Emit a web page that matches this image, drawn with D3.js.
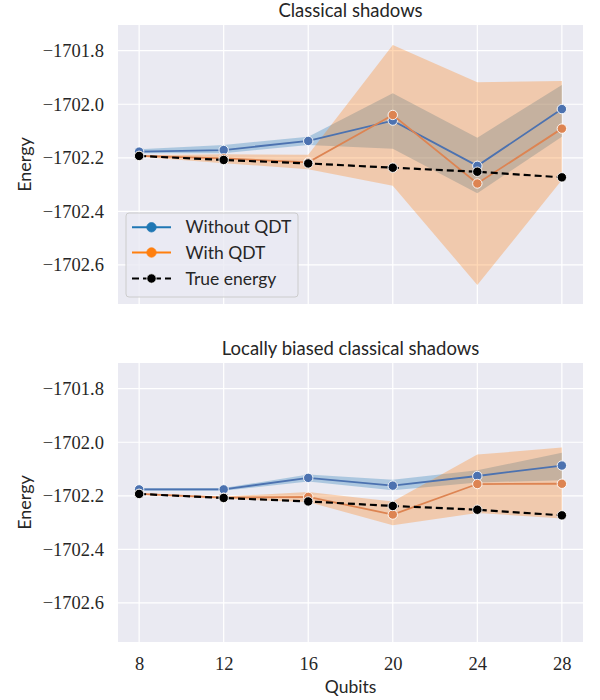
<!DOCTYPE html>
<html><head><meta charset="utf-8">
<script src="https://cdn.jsdelivr.net/npm/d3@7"></script>
<style>
body{margin:0;background:#fff;}
svg{display:block;}
.tick text{font-family:"Liberation Serif","Times New Roman","DejaVu Serif",serif;}
</style>
</head><body>
<svg id="c" width="600" height="700"></svg>
<script>
// ---------- data ----------
const qubits = [8, 12, 16, 20, 24, 28];
const yTicks = [-1701.8, -1702.0, -1702.2, -1702.4, -1702.6];
const seriesNames = ["Without QDT", "With QDT", "True energy"];
const panelTitles = ["Classical shadows", "Locally biased classical shadows"];

// Panel 1: Classical shadows
const cs_without     = [-1702.177, -1702.171, -1702.137, -1702.061, -1702.230, -1702.018];
const cs_without_lo  = [-1702.183, -1702.183, -1702.152, -1702.166, -1702.332, -1702.121];
const cs_without_hi  = [-1702.168, -1702.152, -1702.121, -1701.959, -1702.125, -1701.928];
const cs_with        = [-1702.193, -1702.202, -1702.217, -1702.040, -1702.296, -1702.091];
const cs_with_lo     = [-1702.196, -1702.220, -1702.243, -1702.304, -1702.675, -1702.283];
const cs_with_hi     = [-1702.190, -1702.187, -1702.189, -1701.779, -1701.918, -1701.913];
const cs_true        = [-1702.193, -1702.208, -1702.221, -1702.237, -1702.252, -1702.273];

// Panel 2: Locally biased classical shadows
const lb_without     = [-1702.176, -1702.176, -1702.133, -1702.162, -1702.126, -1702.087];
const lb_without_lo  = [-1702.181, -1702.181, -1702.147, -1702.179, -1702.150, -1702.142];
const lb_without_hi  = [-1702.171, -1702.171, -1702.120, -1702.140, -1702.105, -1702.039];
const lb_with        = [-1702.193, -1702.207, -1702.204, -1702.270, -1702.156, -1702.155];
const lb_with_lo     = [-1702.196, -1702.211, -1702.223, -1702.310, -1702.264, -1702.285];
const lb_with_hi     = [-1702.190, -1702.203, -1702.186, -1702.221, -1702.046, -1702.020];
const lb_true        = [-1702.193, -1702.208, -1702.221, -1702.238, -1702.252, -1702.273];

const panels = [
  {title: panelTitles[0], without: cs_without, wLo: cs_without_lo, wHi: cs_without_hi,
   withq: cs_with, qLo: cs_with_lo, qHi: cs_with_hi, truth: cs_true},
  {title: panelTitles[1], without: lb_without, wLo: lb_without_lo, wHi: lb_without_hi,
   withq: lb_with, qLo: lb_with_lo, qHi: lb_with_hi, truth: lb_true}
];

// ---------- layout ----------
const L = 118, R = 583;
const panelBox = [{top: 25, bottom: 304}, {top: 363, bottom: 642}];
const lineBlue = "#4c72b0", lineOrange = "#dd8452";
const bandBlue = "#1f77b4", bandOrange = "#ff7f0e";
const sans = "Lato, 'Open Sans', sans-serif";
const serif = "'Liberation Serif', 'Times New Roman', 'DejaVu Serif', serif";
const txt = "#262626";

const svg = d3.select("#c");
const x = d3.scaleLinear().domain([7, 29]).range([L, R]);

panels.forEach((p, i) => {
  const box = panelBox[i];
  const y = d3.scaleLinear().domain([-1702.746, -1701.704]).range([box.bottom, box.top]);
  const g = svg.append("g");

  g.append("rect").attr("x", L).attr("y", box.top).attr("width", R - L)
    .attr("height", box.bottom - box.top).attr("fill", "#eaeaf2");

  // grid
  g.selectAll(".hg").data(yTicks).enter().append("line")
    .attr("x1", L).attr("x2", R).attr("y1", d => y(d)).attr("y2", d => y(d))
    .attr("stroke", "#fff").attr("stroke-width", 1.2);
  g.selectAll(".vg").data(qubits).enter().append("line")
    .attr("y1", box.top).attr("y2", box.bottom).attr("x1", d => x(d)).attr("x2", d => x(d))
    .attr("stroke", "#fff").attr("stroke-width", 1.2);

  // y axis
  const ya = g.append("g").attr("transform", `translate(${L},0)`)
    .call(d3.axisLeft(y).tickValues(yTicks).tickSize(0).tickPadding(14)
      .tickFormat(d => "\u2212" + d3.format(".1f")(-d)));
  ya.attr("font-family", serif);
  ya.select(".domain").remove();
  ya.selectAll("text").attr("font-size", 18.5).attr("fill", txt).attr("font-family", serif);

  // x axis on bottom panel only
  if (i === 1) {
    const xa = g.append("g").attr("transform", `translate(0,${box.bottom})`)
      .call(d3.axisBottom(x).tickValues(qubits).tickSize(0).tickPadding(15).tickFormat(d3.format("d")));
    xa.attr("font-family", serif);
    xa.select(".domain").remove();
    xa.selectAll("text").attr("font-size", 18.5).attr("fill", txt).attr("font-family", serif);
    g.append("text").attr("x", (L + R) / 2).attr("y", 693).attr("text-anchor", "middle")
      .attr("font-family", sans).attr("font-size", 17.5).attr("fill", txt).text("Qubits");
  }

  // y label
  g.append("text").attr("transform", `translate(31,${(box.top + box.bottom) / 2}) rotate(-90)`)
    .attr("text-anchor", "middle").attr("font-family", sans).attr("font-size", 18)
    .attr("fill", txt).text("Energy");

  // title
  g.append("text").attr("x", (L + R) / 2).attr("y", box.top - 8).attr("text-anchor", "middle")
    .attr("font-family", sans).attr("font-size", 18.5).attr("fill", txt).text(p.title);

  const area = (lo, hi) => d3.area().x((d, k) => x(qubits[k])).y0((d, k) => y(lo[k])).y1((d, k) => y(hi[k]))(qubits);
  const line = vals => d3.line().x((d, k) => x(qubits[k])).y((d, k) => y(vals[k]))(qubits);

  g.append("path").attr("d", area(p.wLo, p.wHi)).attr("fill", bandBlue).attr("fill-opacity", 0.3);
  g.append("path").attr("d", area(p.qLo, p.qHi)).attr("fill", bandOrange).attr("fill-opacity", 0.3);

  const drawSeries = (vals, color, dashed) => {
    g.append("path").attr("d", line(vals)).attr("fill", "none").attr("stroke", color)
      .attr("stroke-width", dashed ? 2.2 : 1.8).attr("stroke-dasharray", dashed ? "7,4" : null);
    g.selectAll(null).data(vals).enter().append("circle")
      .attr("cx", (d, k) => x(qubits[k])).attr("cy", d => y(d)).attr("r", 4.7)
      .attr("fill", color).attr("stroke", "#fff").attr("stroke-width", 0.9);
  };
  drawSeries(p.without, lineBlue, false);
  drawSeries(p.withq, lineOrange, false);
  drawSeries(p.truth, "#000", true);

  // legend in top panel
  if (i === 0) {
    const lg = g.append("g");
    lg.append("rect").attr("x", 126).attr("y", 213).attr("width", 172).attr("height", 84)
      .attr("rx", 3).attr("fill", "#eaeaf2").attr("fill-opacity", 0.8)
      .attr("stroke", "#cccccc").attr("stroke-width", 1);
    const legColors = ["#1f77b4", "#ff7f0e", "#000"];
    const rowsY = [227.3, 252.5, 278.5];
    seriesNames.forEach((name, k) => {
      lg.append("line").attr("x1", 132).attr("x2", 171).attr("y1", rowsY[k]).attr("y2", rowsY[k])
        .attr("stroke", legColors[k]).attr("stroke-width", k === 2 ? 2.2 : 2)
        .attr("stroke-dasharray", k === 2 ? "7,4" : null);
      lg.append("circle").attr("cx", 151.5).attr("cy", rowsY[k]).attr("r", 4.7).attr("fill", legColors[k])
        .attr("stroke", k === 2 ? "#fff" : legColors[k]).attr("stroke-width", 0.8);
      lg.append("text").attr("x", 185.5).attr("y", rowsY[k]).attr("dy", "0.35em")
        .attr("font-family", sans).attr("font-size", 17.5).attr("fill", txt).text(name);
    });
  }
});
</script>
</body></html>
